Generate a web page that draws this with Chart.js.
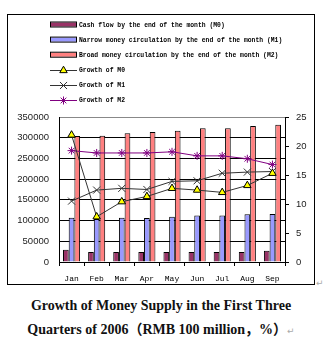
<!DOCTYPE html>
<html>
<head>
<meta charset="utf-8">
<script src="https://cdn.jsdelivr.net/npm/chart.js@4"></script>
<style>
  html, body { margin: 0; padding: 0; background: #fff; }
  body { width: 326px; height: 339px; position: relative; overflow: hidden; }
  #box { position: absolute; left: 7px; top: 14px; width: 306px; height: 269px; border: 1px solid #000; }
  #moneyChart { display: block; }
  .title {
    position: absolute; left: 0; width: 322px; text-align: center;
    font-family: "Liberation Serif", "Noto Sans CJK SC", serif; font-weight: bold; font-size: 14px;
    color: #111; white-space: nowrap;
  }
  .mark { color: #aaa; font-family: "DejaVu Sans", sans-serif; font-weight: normal; font-size: 9px; }
  #mark1 { position: absolute; left: 316px; top: 278px; }
</style>
</head>
<body>
<div id="box"><canvas id="moneyChart" width="306" height="269"></canvas></div>
<span id="mark1" class="mark">↵</span>
<div class="title" style="top:298px">Growth of Money Supply in the First Three</div>
<div class="title" style="top:318px">Quarters of 2006（RMB 100 million，%）<span class="mark">↵</span></div>

<script>
/* =========================
   DATA
========================= */

const months = ["Jan", "Feb", "Mar", "Apr", "May", "Jun", "Jul", "Aug", "Sep"];

// balances, RMB 100 million
const cashM0 = [29300, 24400, 24000, 24000, 24000, 24000, 24000, 24200, 27000];
const narrowM1 = [106800, 104000, 106700, 106500, 109200, 112500, 112500, 115500, 116000];
const broadM2 = [304000, 304500, 311000, 313700, 316700, 323000, 323000, 328000, 331500];

// year-on-year growth, %
const growthM0 = [21.9, 7.8, 10.4, 11.3, 12.7, 12.4, 12.0, 13.2, 15.3];
const growthM1 = [10.5, 12.4, 12.7, 12.5, 13.9, 14.0, 15.3, 15.5, 15.6];
const growthM2 = [19.2, 18.8, 18.8, 18.8, 19.0, 18.3, 18.3, 17.8, 16.8];

const legendNames = [
  "Cash flow by the end of the month (M0)",
  "Narrow money circulation by the end of the month (M1)",
  "Broad money circulation by the end of the month (M2)",
  "Growth of M0",
  "Growth of M1",
  "Growth of M2"
];

/* =========================
   LEGEND (drawn on canvas, stacked list)
========================= */

const stackedLegend = {
  id: "stackedLegend",
  afterDraw(chart) {
    const c = chart.ctx;
    const x0 = 42, x1 = 69, tx = 71;
    c.save();
    c.font = "bold 6.4px 'Liberation Mono', monospace";
    c.textBaseline = "middle";
    chart.data.datasets.forEach((ds, i) => {
      const y = 9.5 + i * 15.1;
      if (ds.type === "bar") {
        c.fillStyle = ds.backgroundColor;
        c.fillRect(x0, y - 2, x1 - x0, 4);
        c.strokeStyle = "#000";
        c.lineWidth = 1;
        c.strokeRect(x0 + 0.5, y - 2.5, x1 - x0 - 1, 5);
      } else {
        const ly = Math.round(y) + 0.5;
        c.strokeStyle = ds.borderColor;
        c.lineWidth = 1;
        c.beginPath();
        c.moveTo(x0, ly);
        c.lineTo(x1, ly);
        c.stroke();
        c.fillStyle = ds.pointBackgroundColor;
        c.strokeStyle = ds.pointBorderColor;
        Chart.helpers.drawPoint(c, {
          pointStyle: ds.pointStyle,
          radius: ds.pointRadius,
          borderWidth: 1,
          rotation: 0
        }, (x0 + x1) / 2, ly);
      }
      c.fillStyle = "#000";
      c.fillText(legendNames[i], tx, y + 0.5);
    });
    c.restore();
  }
};

/* =========================
   CHART
========================= */

const ctx = document.getElementById("moneyChart");

const barStyle = { borderColor: "#000", borderWidth: 1, categoryPercentage: 0.68, barPercentage: 1, order: 2, yAxisID: "y" };
const lineStyle = { borderWidth: 1, pointBorderWidth: 1, order: 1, yAxisID: "y1", tension: 0 };

new Chart(ctx, {
  data: {
    labels: months,
    datasets: [
      { type: "bar", label: legendNames[0], data: cashM0, backgroundColor: "#993366", ...barStyle },
      { type: "bar", label: legendNames[1], data: narrowM1, backgroundColor: "#9999ff", ...barStyle },
      { type: "bar", label: legendNames[2], data: broadM2, backgroundColor: "#ff8080", ...barStyle },
      { type: "line", label: legendNames[3], data: growthM0, borderColor: "#333", pointStyle: "triangle", pointRadius: 4.3,
        pointBackgroundColor: "#ffff00", pointBorderColor: "#000", ...lineStyle },
      { type: "line", label: legendNames[4], data: growthM1, borderColor: "#333", pointStyle: "crossRot", pointRadius: 5,
        pointBackgroundColor: "#333", pointBorderColor: "#333", ...lineStyle },
      { type: "line", label: legendNames[5], data: growthM2, borderColor: "#800080", pointStyle: "star", pointRadius: 4,
        pointBackgroundColor: "#800080", pointBorderColor: "#800080", ...lineStyle }
    ]
  },
  options: {
    responsive: false,
    animation: false,
    devicePixelRatio: 1,
    layout: { padding: { top: 102, left: 0, right: 0, bottom: 0 } },
    plugins: { legend: { display: false }, tooltip: { enabled: false } },
    scales: {
      x: {
        grid: { offset: true, drawOnChartArea: false, color: "#000", tickLength: 4 },
        border: { color: "#000" },
        ticks: { color: "#000", padding: 8, font: { family: "'Liberation Mono', monospace", size: 8 } },
        afterFit(s) { s.height = 22; }
      },
      y: {
        position: "left",
        min: 0, max: 350000,
        grid: { drawTicks: false, color: c => (c.tick && c.tick.value === 350000 ? "#888" : "#000") },
        border: { color: "#000" },
        ticks: { stepSize: 50000, padding: 10, color: "#222", callback: v => String(v),
                 font: { family: "'Liberation Sans', Arial", size: 9.5 } },
        afterFit(s) { s.width = 51; }
      },
      y1: {
        position: "right",
        min: 0, max: 25,
        grid: { drawOnChartArea: false, color: "#000", tickLength: 4 },
        border: { color: "#000" },
        ticks: { stepSize: 5, padding: 7, color: "#222", callback: v => String(v),
                 font: { family: "'Liberation Sans', Arial", size: 9.5 } },
        afterFit(s) { s.width = 29; }
      }
    }
  },
  plugins: [stackedLegend]
});
</script>
</body>
</html>
